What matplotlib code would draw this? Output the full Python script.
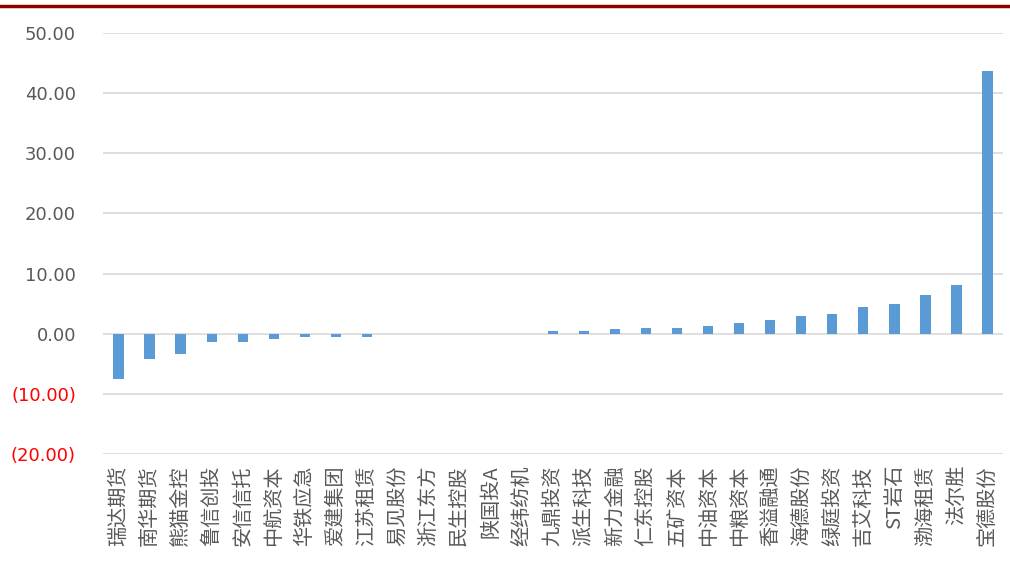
import matplotlib
matplotlib.use("Agg")
import matplotlib.pyplot as plt
from matplotlib.lines import Line2D
from matplotlib.ticker import FixedLocator

plt.rcParams['font.family'] = ['Noto Sans CJK SC', 'DejaVu Sans']

categories = ["瑞达期货", "南华期货", "熊猫金控", "鲁信创投", "安信信托", "中航资本",
              "华铁应急", "爱建集团", "江苏租赁", "易见股份", "浙江东方", "民生控股",
              "陕国投A", "经纬纺机", "九鼎投资", "派生科技", "新力金融", "仁东控股",
              "五矿资本", "中油资本", "中粮资本", "香溢融通", "海德股份", "绿庭投资",
              "吉艾科技", "ST岩石", "渤海租赁", "法尔胜", "宝德股份"]
values = [-7.6, -4.15, -3.3, -1.4, -1.4, -0.9, -0.6, -0.6, -0.6, 0.0, 0.0, 0.0,
          0.0, 0.0, 0.4, 0.4, 0.8, 1.0, 1.0, 1.2, 1.8, 2.3, 2.9, 3.3,
          4.5, 4.9, 6.4, 8.1, 43.7]
y_ticks = [-20, -10, 0, 10, 20, 30, 40, 50]

fig = plt.figure(figsize=(10.1, 5.64), dpi=100)
ax = fig.add_axes([103/1010, 1 - 454/564, 900/1010, (454 - 33)/564])

x = list(range(len(categories)))
ax.bar(x, values, width=0.33, color='#5B9BD5', zorder=3)

ax.set_xlim(-0.5, len(categories) - 0.5)
ax.set_ylim(-20, 50)
ax.yaxis.set_major_locator(FixedLocator(y_ticks))
ax.grid(axis='y', color='#D9D9D9', linewidth=1.2, zorder=0)
for s in ax.spines.values():
    s.set_visible(False)

ax.set_xticks(x)
ax.set_xticklabels(categories, rotation=90, fontsize=14.5, color='#595959',
                   family=['Noto Sans CJK SC', 'DejaVu Sans'])
ax.tick_params(axis='x', length=0, pad=8)

labels = []
for v in y_ticks:
    if v < 0:
        labels.append("(%.2f)" % abs(v))
    else:
        labels.append("%.2f" % v)
ax.set_yticks(y_ticks)
ax.set_yticklabels(labels, fontsize=13, family='DejaVu Sans')
for lab, v in zip(ax.get_yticklabels(), y_ticks):
    lab.set_color('#FF0000' if v < 0 else '#595959')
ax.tick_params(axis='y', length=0, pad=19.5)

fig.add_artist(Line2D([0, 1], [1 - 5.5/564, 1 - 5.5/564], transform=fig.transFigure,
                      color='#8B0000', linewidth=2.5))

fig.savefig("out.png", dpi=100)
